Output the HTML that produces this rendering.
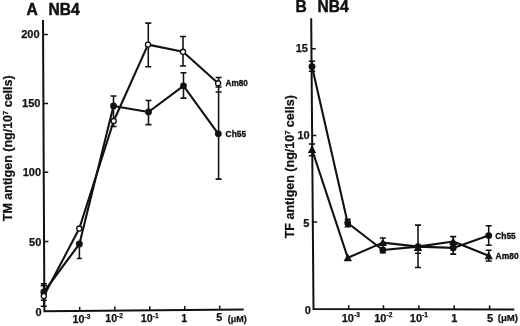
<!DOCTYPE html>
<html><head><meta charset="utf-8">
<style>
html,body{margin:0;padding:0;background:#fff;}
body{width:520px;height:326px;overflow:hidden;}
svg{display:block;filter:grayscale(1);}
text{font-family:"Liberation Sans",sans-serif;font-weight:bold;fill:#111;stroke:#111;stroke-width:0.25px;}
</style></head>
<body>
<svg width="520" height="326" viewBox="0 0 520 326">
<text x="26.6" y="15.3" font-size="15.6" style="stroke-width:0.45px">A</text>
<text x="48.6" y="15.3" font-size="15.6" style="stroke-width:0.45px">NB4</text>
<g stroke="#111" fill="none">
<path d="M43.0 20 L44.4 311.2 L243.7 309.4" stroke-width="2"/>
<path d="M43.3 34.6 H47.8 M43.6 103.5 H48 M43.9 172.2 H48.2 M44.2 241.4 H48.4" stroke-width="1.5"/>
<path d="M79.7 310.88 V306.88" stroke-width="1.5"/>
<path d="M114.8 310.56 V306.56" stroke-width="1.5"/>
<path d="M149.8 310.25 V306.25" stroke-width="1.5"/>
<path d="M184.7 309.93 V305.93" stroke-width="1.5"/>
<path d="M219.7 309.62 V305.62" stroke-width="1.5"/>
</g>
<g font-size="11" text-anchor="end">
<text x="39.6" y="37.6">200</text>
<text x="40.4" y="107.2">150</text>
<text x="41.0" y="176.0">100</text>
<text x="41.3" y="245.6">50</text>
<text x="41.5" y="315.8">0</text>
</g>
<text x="72.6" y="322.6" font-size="10.7">10<tspan font-size="6.6" dy="-4">-3</tspan></text>
<text x="105.2" y="322.4" font-size="10.7">10<tspan font-size="6.6" dy="-4">-2</tspan></text>
<text x="140.8" y="322.2" font-size="10.7">10<tspan font-size="6.6" dy="-4">-1</tspan></text>
<text x="181.2" y="322" font-size="10.7">1</text>
<text x="216.3" y="321.4" font-size="10.7">5</text>
<text x="227.8" y="322.3" font-size="9">(μM)</text>
<text transform="translate(11.9 221.2) rotate(-90)" font-size="12.5">TM antigen (ng/10<tspan font-size="7.5" dy="-4">7</tspan><tspan dy="4"> cells)</tspan></text>
<g stroke="#111" stroke-width="1.55" fill="none">
<path d="M43.8 283.8 V306.3 M40.8 283.8 H46.8 M40.8 306.3 H46.8 M40.8 285.6 H46.8 M40.8 300.2 H46.8"/>
<path d="M79.4 244 V258.5 M76.9 244 H81.9 M76.9 258.5 H81.9"/>
<path d="M113.5 96 V126.4 M110.5 96 H116.5 M110.5 126.4 H116.5"/>
<path d="M148.3 23.1 V66.8 M145.3 23.1 H151.3 M145.3 66.8 H151.3"/>
<path d="M148.5 100.5 V124.6 M145.5 100.5 H151.5 M145.5 124.6 H151.5"/>
<path d="M183 36.5 V66 M180.0 36.5 H186.0 M180.0 66 H186.0"/>
<path d="M183.5 72.7 V98.1 M180.5 72.7 H186.5 M180.5 98.1 H186.5"/>
<path d="M218.6 77.5 V179.1 M215.6 77.5 H221.6 M215.6 179.1 H221.6 M215.6 87 H221.6 M215.6 91.9 H221.6"/>
</g>
<g stroke="#111" stroke-width="2.1" fill="none" stroke-linejoin="round">
<path d="M43.8 292 L79.4 244 L113.5 106 L148.5 112 L183.5 85.8 L218.3 133.8"/>
<path d="M43.8 296 L79.3 228.5 L113.7 121 L148 44.6 L183 51.8 L218.1 83.3"/>
</g>
<g fill="#111">
<circle cx="43.8" cy="292" r="3.4"/>
<circle cx="79.4" cy="244" r="3.4"/>
<circle cx="113.5" cy="106" r="3.4"/>
<circle cx="148.5" cy="112" r="3.4"/>
<circle cx="183.5" cy="85.8" r="3.4"/>
<circle cx="218.3" cy="133.8" r="3.4"/>
</g>
<g fill="#fff" stroke="#111" stroke-width="1.35">
<circle cx="43.8" cy="296" r="2.55"/>
<circle cx="79.3" cy="228.5" r="2.55"/>
<circle cx="113.7" cy="121" r="2.55"/>
<circle cx="148" cy="44.6" r="2.55"/>
<circle cx="183" cy="51.8" r="2.55"/>
<circle cx="218.1" cy="83.3" r="2.55"/>
</g>
<text x="225.6" y="86.3" font-size="9" style="stroke-width:0.35px" transform="translate(225.6 0) scale(0.91 1) translate(-225.6 0)">Am80</text>
<text x="225.6" y="137.1" font-size="9" style="stroke-width:0.35px" transform="translate(225.6 0) scale(0.93 1) translate(-225.6 0)">Ch55</text>
<text x="295.6" y="12.2" font-size="15.6" style="stroke-width:0.45px">B</text>
<text x="317.6" y="12.2" font-size="15.6" style="stroke-width:0.45px">NB4</text>
<g stroke="#111" fill="none">
<path d="M311.2 18.2 L313.5 309.0 L514.3 309.4" stroke-width="2"/>
<path d="M311.4 48.65 H315.8 M312.1 135.6 H316.4 M312.8 222 H317.2" stroke-width="1.5"/>
<path d="M348.7 309.07 V305.07" stroke-width="1.5"/>
<path d="M383.5 309.14 V305.14" stroke-width="1.5"/>
<path d="M418.8 309.21 V305.21" stroke-width="1.5"/>
<path d="M454.2 309.28 V305.28" stroke-width="1.5"/>
<path d="M489.6 309.35 V305.35" stroke-width="1.5"/>
</g>
<g font-size="11" text-anchor="end">
<text x="308" y="51.6">15</text>
<text x="309.7" y="139">10</text>
<text x="309.3" y="226.8">5</text>
<text x="310.8" y="313.8">0</text>
</g>
<text x="341.7" y="322.0" font-size="11">10<tspan font-size="6.6" dy="-5">-3</tspan></text>
<text x="374.2" y="322.0" font-size="11">10<tspan font-size="6.6" dy="-5">-2</tspan></text>
<text x="409.8" y="322.0" font-size="11">10<tspan font-size="6.6" dy="-5">-1</tspan></text>
<text x="451.2" y="322.0" font-size="11">1</text>
<text x="487" y="322.2" font-size="11">5</text>
<text x="497.8" y="321.2" font-size="9.6">(μM)</text>
<text transform="translate(293.7 238.3) rotate(-90)" font-size="12.5">TF antigen (ng/10<tspan font-size="7.5" dy="-4">7</tspan><tspan dy="4"> cells)</tspan></text>
<g stroke="#111" stroke-width="1.55" fill="none">
<path d="M312 61.3 V71.3 M308.8 61.3 H315.2 M308.8 71.3 H315.2"/>
<path d="M312 143.9 V155.7 M308.8 143.9 H315.2 M308.8 155.7 H315.2"/>
<path d="M347.7 219.3 V226.7 M344.7 219.3 H350.7 M344.7 226.7 H350.7"/>
<path d="M382.8 238 V252.7 M379.8 238 H385.8 M379.8 252.7 H385.8"/>
<path d="M418 225.1 V267.4 M415.0 225.1 H421.0 M415.0 267.4 H421.0 M415.0 253.2 H421.0"/>
<path d="M453.2 236.6 V254.1 M450.2 236.6 H456.2 M450.2 254.1 H456.2"/>
<path d="M488.7 225.7 V245.3 M485.7 225.7 H491.7 M485.7 245.3 H491.7"/>
<path d="M488.7 250.3 V261 M485.7 250.3 H491.7 M485.7 261 H491.7"/>
</g>
<g stroke="#111" stroke-width="2.1" fill="none" stroke-linejoin="round">
<path d="M312 66.6 L347.7 223 L382.8 250 L418 246.6 L453.2 247.9 L488.7 235.6"/>
<path d="M312 149.5 L347.8 257.8 L382.8 242.6 L418 246.6 L453.2 241.5 L488.7 255.8"/>
</g>
<g fill="#111">
<circle cx="312" cy="66.6" r="3.45"/>
<circle cx="347.7" cy="223" r="3.4"/>
<circle cx="382.8" cy="250" r="3.4"/>
<circle cx="418" cy="246.6" r="3.4"/>
<circle cx="453.2" cy="247.9" r="3.4"/>
<circle cx="488.7" cy="235.6" r="3.45"/>
<path d="M312.00 145.21 L316.20 153.01 L307.80 153.01 Z"/>
<path d="M347.80 253.51 L352.00 261.31 L343.60 261.31 Z"/>
<path d="M382.80 238.31 L387.00 246.11 L378.60 246.11 Z"/>
<path d="M418.00 243.11 L422.20 250.91 L413.80 250.91 Z"/>
<path d="M453.20 237.21 L457.40 245.01 L449.00 245.01 Z"/>
<path d="M488.70 251.51 L492.90 259.31 L484.50 259.31 Z"/>
</g>
<text x="495.3" y="239" font-size="9" style="stroke-width:0.35px" transform="translate(495.3 0) scale(0.93 1) translate(-495.3 0)">Ch55</text>
<text x="495.6" y="258.8" font-size="9" style="stroke-width:0.35px" transform="translate(495.6 0) scale(0.94 1) translate(-495.6 0)">Am80</text>
</svg>
</body></html>
